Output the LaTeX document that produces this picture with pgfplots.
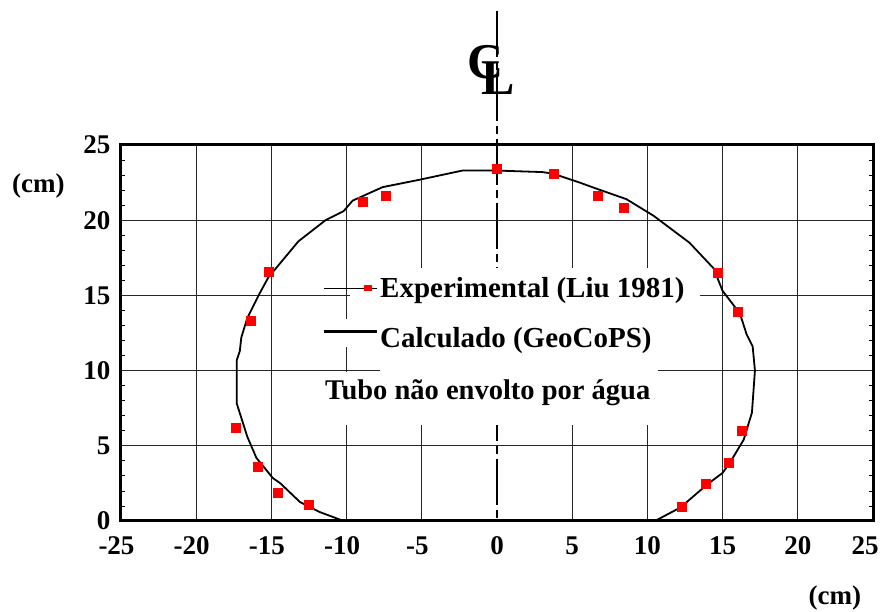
\documentclass[border=0pt]{standalone}
\usepackage{fontspec}
\setmainfont{Liberation Serif}
\usepackage{pgfplots}
\usepackage{pgfplotstable}
\pgfplotsset{compat=1.18}

% Calculated deformed pipe profile (GeoCoPS)
\pgfplotstableread{
x y
-10.2 0.0
-11.8 0.6
-13.1 1.26
-14.4 2.5
-14.9 2.85
-16.0 4.2
-16.6 5.6
-17.3 7.8
-17.3 10.7
-17.1 11.3
-17.0 12.2
-16.6 13.5
-15.8 15.1
-15.2 16.2
-13.2 18.6
-11.4 20.0
-10.2 20.6
-9.6 21.3
-7.6 22.2
-5.1 22.7
-2.3 23.3
0.0 23.3
3.0 23.2
3.7 23.1
5.5 22.5
6.6 22.1
8.6 21.4
10.4 20.3
12.8 18.5
14.4 16.8
15.0 15.3
16.15 13.8
16.6 12.4
17.0 11.6
17.15 10.0
16.95 7.2
16.4 5.4
15.5 3.9
15.0 3.2
14.0 2.45
12.2 0.9
10.5 0.0
}\calcdata

% Measured profile (Liu 1981)
\pgfplotstableread{
x y
-17.4 6.2
-15.9 3.6
-14.6 1.9
-12.5 1.06
-16.4 13.3
-15.2 16.6
-8.9 21.2
-7.4 21.6
0.0 23.4
3.8 23.1
6.7 21.6
8.4 20.8
14.7 16.5
16.0 13.9
16.3 6.0
15.4 3.85
13.9 2.45
12.3 0.93
}\expdata

\begin{document}
\begin{tikzpicture}[font=\bfseries]
\useasboundingbox (-121pt,-91pt) rectangle (763pt,521pt);
\begin{axis}[
  at={(0,0)}, anchor=south west,
  width=752pt, height=376pt, scale only axis,
  xmin=-25, xmax=25, ymin=0, ymax=25,
  xtick={-25,-20,-15,-10,-5,5,10,15,20,25},
  xticklabels={\llap{-}25,\llap{-}20,\llap{-}15,\llap{-}10,\llap{-}5,5,10,15,20,\hspace*{-16pt}25},
  extra x ticks={0}, extra x tick labels={0},
  extra x tick style={grid=none},
  ytick={0,5,...,25}, yticklabels={0,5,10,15,20,25},
  grid=major,
  major grid style={black!85, line width=1.1pt},
  axis line style={line width=3pt},
  minor x tick num=4, minor y tick num=4,
  tick align=inside, major tick length=0pt, minor tick length=4pt,
  tick style={black, line width=0.8pt},
  ticklabel style={font=\fontsize{27}{27}\selectfont\bfseries},
  xticklabel style={yshift=-12pt},
  yticklabel style={xshift=-7pt},
  clip=false,
  legend style={at={(axis cs:-11.77,16.5)}, anchor=north west,
    draw=none, fill=none, inner sep=2pt, row sep=25pt,
    font=\fontsize{29}{29}\selectfont\bfseries},
  legend cell align=left,
]
% centre line of the pipe
\draw[line width=1.3pt, dash pattern=on 46pt off 5pt on 8pt off 5pt]
  (axis cs:0,33.9) -- (axis cs:0,0);

% blank areas behind the captions
\fill[white] (axis cs:-9.77,16.84) rectangle (axis cs:13.5,13.46);
\fill[white] (axis cs:-11.77,13.46) rectangle (axis cs:12.77,11.54);
\fill[white] (axis cs:-7.8,11.54) rectangle (axis cs:10.7,9.88);
\fill[white] (axis cs:-11.77,9.88) rectangle (axis cs:10.84,6.37);

\addplot[black, line width=1.8pt, line join=round, forget plot] table {\calcdata};
\addplot[only marks, mark=square*, mark size=4.5pt, color=red,
  mark options={draw=red, fill=red}, forget plot] table {\expdata};

\addlegendimage{legend image code/.code={
  \path (0pt,0pt) -- (53pt,0pt);
  \fill[red] (41pt,-2.5pt) rectangle (48pt,2.5pt);}}
\addlegendentry{Experimental (Liu 1981)}
\addlegendimage{legend image code/.code={
  \draw[line width=3pt] (0pt,7pt) -- (53pt,7pt);}}
\addlegendentry{Calculado (GeoCoPS)}

\node[anchor=west, inner sep=0pt, font=\fontsize{28.5}{28.5}\selectfont\bfseries]
  at (axis cs:-11.44,8.55) {Tubo não envolto por água};

% centre-line symbol: C and L interlaced
\node[inner sep=0pt, font=\fontsize{50}{50}\selectfont\bfseries]
  at (axis cs:-0.4,30.0) {\rlap{\raisebox{16pt}{C}}\hspace*{14pt}L};

% units
\node[font=\fontsize{27}{27}\selectfont\bfseries] at (axis cs:-30.5,22.3) {(cm)};
\node[font=\fontsize{27}{27}\selectfont\bfseries] at (axis cs:22.47,-5.1) {(cm)};
\end{axis}
\end{tikzpicture}
\end{document}
